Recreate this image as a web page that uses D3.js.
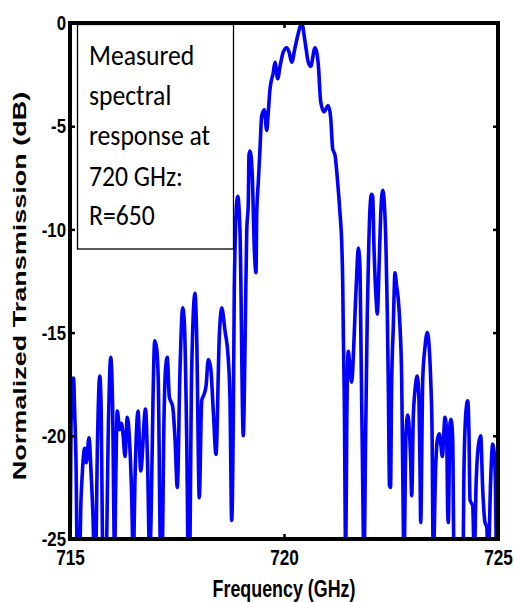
<!DOCTYPE html>
<html>
<head>
<meta charset="utf-8">
<script src="https://cdn.jsdelivr.net/npm/d3@7/dist/d3.min.js"></script>
<style>
  html, body { margin: 0; padding: 0; background: #fff; }
  svg { display: block; }
</style>
</head>
<body>
<svg id="chart" width="514" height="602"></svg>
<script>
// ---- data ----
const freq = [
  715.000, 715.023, 715.058, 715.082, 715.110, 715.140, 715.171, 715.222, 715.257, 715.280,
  715.343, 715.381, 715.444, 715.491, 715.537, 715.568, 715.596, 715.643, 715.694, 715.724,
  715.771, 715.841, 715.900, 715.951, 715.993, 716.044, 716.063, 716.105, 716.161, 716.199,
  716.238, 716.285, 716.339, 716.390, 716.437, 716.479, 716.519, 716.589, 716.652, 716.764,
  716.811, 716.862, 716.893, 716.939, 716.979, 717.026, 717.063, 717.119, 717.150, 717.196,
  717.231, 717.273, 717.320, 717.400, 717.453, 717.507, 717.570, 717.633, 717.671, 717.727,
  717.764, 717.792, 717.843, 717.921, 717.960, 718.021, 718.077, 718.131, 718.178, 718.231,
  718.287, 718.348, 718.411, 718.488, 718.544, 718.621, 718.699, 718.738, 718.778, 718.815,
  718.839, 718.895, 718.918, 718.972, 719.049, 719.089, 719.129, 719.166, 719.182, 719.206,
  719.259, 719.306, 719.346, 719.362, 719.400, 719.439, 719.479, 719.540, 719.596, 719.633,
  719.673, 719.750, 719.790, 719.853, 719.907, 719.984, 720.064, 720.117, 720.180, 720.257,
  720.334, 720.414, 720.491, 720.568, 720.624, 720.724, 720.801, 720.857, 720.935, 721.035,
  721.091, 721.138, 721.192, 721.245, 721.308, 721.348, 721.371, 721.386, 721.409, 721.442,
  721.465, 721.502, 721.542, 721.582, 721.619, 721.659, 721.699, 721.736, 721.776, 721.799,
  721.829, 721.869, 721.909, 721.946, 721.979, 722.009, 722.044, 722.072, 722.103, 722.150,
  722.180, 722.220, 722.259, 722.306, 722.343, 722.383, 722.414, 722.437, 722.465, 722.488,
  722.516, 722.554, 722.593, 722.629, 722.671, 722.710, 722.750, 722.773, 722.804, 722.850,
  722.890, 722.928, 722.960, 722.984, 723.021, 723.061, 723.114, 723.154, 723.178, 723.194,
  723.241, 723.294, 723.348, 723.395, 723.428, 723.458, 723.488, 723.544, 723.582, 723.629,
  723.668, 723.699, 723.762, 723.801, 723.825, 723.839, 723.879, 723.902, 723.942, 723.972,
  724.065, 724.182, 724.206, 724.252, 724.292, 724.322, 724.346, 724.409, 724.446, 724.486,
  724.540, 724.596, 724.643, 724.696, 724.736, 724.773, 724.829, 724.876, 724.930, 724.970,
  725.000
];
const transmission = [
  -26.0, -19.7, -17.3, -17.2, -18.9, -21.2, -26.0, -26.0, -23.1, -22.1,
  -20.6, -21.3, -20.1, -21.7, -23.9, -26.0, -26.0, -20.2, -17.1, -18.3,
  -26.0, -26.0, -19.2, -16.2, -18.3, -26.0, -23.1, -18.8, -19.7, -19.4,
  -19.9, -21.0, -19.1, -20.2, -22.6, -26.0, -22.1, -18.8, -21.7, -18.7,
  -21.2, -26.0, -24.1, -18.3, -15.4, -15.8, -17.4, -26.0, -26.0, -19.2,
  -16.8, -16.2, -18.1, -18.6, -20.1, -22.5, -16.8, -13.8, -14.5, -20.1,
  -26.0, -26.0, -16.8, -13.1, -15.2, -23.0, -18.3, -18.0, -17.6, -16.3,
  -16.7, -18.8, -20.9, -15.2, -13.8, -14.9, -16.3, -18.2, -24.1, -19.3,
  -12.8, -8.7, -8.4, -10.1, -20.0, -15.7, -10.1, -8.7, -6.4, -6.2,
  -7.4, -10.9, -12.1, -9.3, -7.7, -6.1, -4.5, -4.2, -5.2, -4.3,
  -3.2, -2.4, -1.9, -2.7, -2.1, -1.4, -1.2, -1.4, -1.9, -1.2,
  -0.5, 0.0, -0.9, -1.9, -2.1, -1.2, -2.0, -3.8, -4.3, -4.0,
  -4.6, -6.1, -6.4, -7.5, -9.2, -10.6, -12.5, -15.0, -18.2, -26.0,
  -19.8, -15.9, -16.7, -17.4, -16.2, -14.1, -12.2, -10.9, -11.9, -15.7,
  -20.6, -26.0, -19.8, -14.1, -10.9, -9.0, -8.3, -8.4, -10.9, -13.3,
  -14.1, -11.9, -9.3, -8.1, -8.7, -10.9, -14.1, -17.5, -22.4, -22.5,
  -17.4, -14.7, -12.1, -12.7, -13.4, -14.7, -17.3, -21.5, -26.0, -19.9,
  -19.0, -19.7, -21.2, -22.9, -19.1, -17.8, -17.1, -18.3, -21.5, -24.2,
  -17.3, -15.7, -15.0, -15.8, -17.3, -19.6, -26.0, -21.5, -20.2, -19.9,
  -20.5, -21.0, -19.1, -19.9, -23.7, -24.2, -19.4, -19.2, -20.2, -26.0,
  -26.5, -26.0, -21.5, -18.8, -18.3, -19.9, -23.1, -23.4, -26.0, -22.5,
  -20.5, -20.0, -22.6, -24.2, -24.4, -26.0, -22.1, -20.4, -21.5, -26.0,
  -26.0
];
const xTicks = [715, 720, 725];
const yTicks = [0, -5, -10, -15, -20, -25];
const legendLines = ["Measured", "spectral", "response at", "720 GHz:", "R=650"];
const xTitle = "Frequency (GHz)";
const yTitle = "Normalized Transmission (dB)";

// ---- layout ----
const L = 70, R = 498, T = 23, B = 539;
const svg = d3.select("#chart");
const x = d3.scaleLinear().domain([715, 725]).range([L, R]);
const y = d3.scaleLinear().domain([-25, 0]).range([B, T]);

const AX_FONT = "'Liberation Sans', Arial, Helvetica, sans-serif";
const tickFont = 21, tickScale = 0.8;

svg.append("defs").append("clipPath").attr("id", "plotclip")
  .append("rect").attr("x", L).attr("y", T - 2).attr("width", R - L).attr("height", B - T + 2);

// ---- spectrum line ----
const pts = freq.map((f, i) => [f, transmission[i]]);
svg.append("path")
  .datum(pts)
  .attr("clip-path", "url(#plotclip)")
  .attr("fill", "none")
  .attr("stroke", "#0000ff")
  .attr("stroke-width", 3.6)
  .attr("stroke-linejoin", "round")
  .attr("d", d3.line().x(d => x(d[0])).y(d => y(d[1])).curve(d3.curveMonotoneX));

// ---- legend / annotation box ----
const box = svg.append("g");
box.append("rect")
  .attr("x", 77.5).attr("y", 24.5).attr("width", 156).attr("height", 224.5)
  .attr("fill", "#fff").attr("stroke", "#000").attr("stroke-width", 1.3);
const legendBase = [65, 105, 145, 186, 225];
legendLines.forEach((t, i) => {
  box.append("text")
    .attr("transform", `translate(89,${legendBase[i]}) scale(0.9,1)`)
    .attr("font-family", "Carlito, Lato, 'Open Sans', sans-serif")
    .attr("font-size", 28.5)
    .attr("fill", "#000")
    .text(t);
});

// ---- axes ----
function styleTicks(g) {
  g.select(".domain").remove();
  g.selectAll(".tick line").attr("stroke", "#000").attr("stroke-width", 2.5);
}
const gLeft = svg.append("g").attr("transform", `translate(${L},0)`)
  .call(d3.axisLeft(y).tickValues(yTicks).tickSize(-5).tickPadding(4).tickFormat(d => String(d)));
styleTicks(gLeft);
gLeft.selectAll("text")
  .attr("font-family", AX_FONT).attr("font-weight", "bold").attr("font-size", tickFont)
  .attr("fill", "#000")
  .attr("transform", `scale(${tickScale},1)`)
  .attr("x", -4 / tickScale);

const gRight = svg.append("g").attr("transform", `translate(${R},0)`)
  .call(d3.axisRight(y).tickValues(yTicks).tickSize(-5).tickFormat(""));
styleTicks(gRight);

const gTop = svg.append("g").attr("transform", `translate(0,${T})`)
  .call(d3.axisTop(x).tickValues(xTicks).tickSize(-5).tickFormat(""));
styleTicks(gTop);

const gBottom = svg.append("g").attr("transform", `translate(0,${B})`)
  .call(d3.axisBottom(x).tickValues(xTicks).tickSize(-5).tickPadding(10).tickFormat(d => String(d)));
styleTicks(gBottom);
gBottom.selectAll("text")
  .attr("font-family", AX_FONT).attr("font-weight", "bold").attr("font-size", 22)
  .attr("fill", "#000")
  .attr("transform", `scale(0.78,1)`);

// ---- frame ----
svg.append("rect")
  .attr("x", L).attr("y", T).attr("width", R - L).attr("height", B - T)
  .attr("fill", "none").attr("stroke", "#000").attr("stroke-width", 4);

// ---- axis titles ----
svg.append("text")
  .attr("transform", `translate(${(L + R) / 2},597) scale(0.76,1)`)
  .attr("text-anchor", "middle")
  .attr("font-family", AX_FONT).attr("font-weight", "bold").attr("font-size", 23.5)
  .attr("fill", "#000")
  .text(xTitle);

svg.append("text")
  .attr("transform", `translate(25.5,286) rotate(-90) scale(1.5,1)`)
  .attr("text-anchor", "middle")
  .attr("font-family", AX_FONT).attr("font-weight", "bold").attr("font-size", 18)
  .attr("fill", "#000")
  .text(yTitle);
</script>
</body>
</html>
